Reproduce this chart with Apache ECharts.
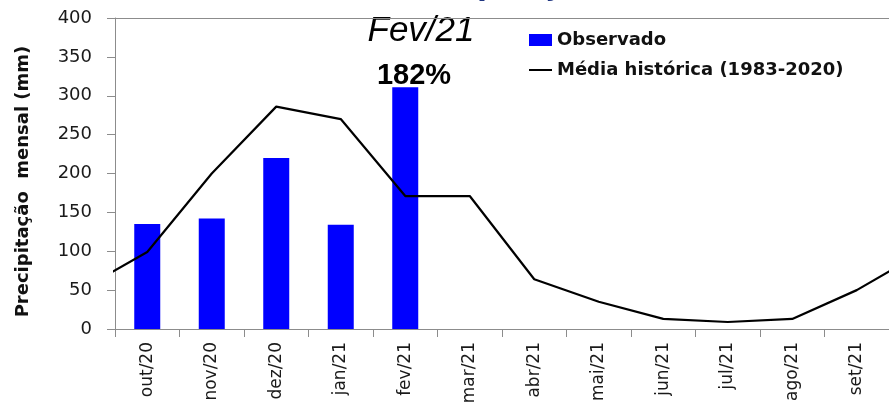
<!DOCTYPE html>
<html>
<head>
<meta charset="utf-8">
<script src="https://cdn.jsdelivr.net/npm/echarts@6/dist/echarts.min.js"></script>
<style>
html,body{margin:0;padding:0;background:#fff;}
#chart{width:889px;height:410px;}
</style>
</head>
<body>
<div id="chart"></div>
<script>
// Categories (months)
var categories = ['out/20','nov/20','dez/20','jan/21','fev/21','mar/21','abr/21','mai/21','jun/21','jul/21','ago/21','set/21'];
// Observed monthly precipitation (mm)
var observado = [135, 142, 220, 134, 311, null, null, null, null, null, null, null];
// Historical mean (1983-2020), mm, for each category
var mediaHistorica = [99, 200, 286, 270, 171, 171, 64, 35, 13, 9, 13, 50];
// Neighbouring months outside the visible window (set/20 and out/21), line runs off the plot edges
var mediaAntes = 52;
var mediaDepois = 98;
// Y axis ticks
var yTicks = [0, 50, 100, 150, 200, 250, 300, 350, 400];
// Texts
var seriesNames = ['Observado', 'Média histórica (1983-2020)'];
var yAxisTitle = 'Precipitação  mensal (mm)';
var annotMonth = 'Fev/21';
var annotPct = '182%';
var chartTitle = 'Precipitação';

// Line data placed on a continuous axis at category centres (index + 0.5)
var lineValues = [mediaAntes].concat(mediaHistorica, [mediaDepois]);
var lineData = lineValues.map(function (v, k) { return [k - 1 + 0.5, v]; });

var chart = echarts.init(document.getElementById('chart'), null, {renderer: 'canvas'});
var option = {
  animation: false,
  backgroundColor: '#ffffff',
  grid: {
    left: 115, right: -2, top: 18, bottom: 81,
    show: false
  },
  legend: {
    orient: 'vertical',
    left: 529, top: 31,
    padding: 0,
    itemGap: 12,
    itemWidth: 23, itemHeight: 12,
    textStyle: {fontFamily: 'DejaVu Sans', fontWeight: 'bold', fontSize: 18, color: '#111', lineHeight: 18},
    data: [
      {name: seriesNames[0], icon: 'rect'},
      {name: seriesNames[1], icon: 'path://M0,0L0.001,0L0.001,0.001Z M0,5h23v2h-23z M23,12L22.999,12L22.999,11.999Z'}
    ]
  },
  xAxis: [
    {
      type: 'category',
      data: categories,
      boundaryGap: true,
      axisLine: {show: true, lineStyle: {color: '#8c8c8c', width: 1}},
      axisTick: {show: true, alignWithLabel: false, length: 8, lineStyle: {color: '#8c8c8c'}},
      axisLabel: {rotate: 90, margin: 13, fontFamily: 'DejaVu Sans', fontSize: 17, color: '#1a1a1a', interval: 0},
      splitLine: {show: false}
    },
    {
      type: 'value',
      min: 0, max: categories.length,
      position: 'top',
      axisLine: {show: true, lineStyle: {color: '#8c8c8c', width: 1}},
      axisTick: {show: false},
      axisLabel: {show: false},
      splitLine: {show: false}
    }
  ],
  yAxis: {
    type: 'value',
    min: yTicks[0], max: yTicks[yTicks.length - 1], interval: yTicks[1] - yTicks[0],
    name: yAxisTitle,
    nameLocation: 'middle',
    nameGap: 83,
    nameRotate: 90,
    nameTextStyle: {fontFamily: 'DejaVu Sans', fontWeight: 'bold', fontSize: 18, color: '#111', padding: [0, 16, 0, 0]},
    axisLine: {show: true, lineStyle: {color: '#8c8c8c', width: 1}},
    axisTick: {show: true, inside: false, length: 8, lineStyle: {color: '#8c8c8c'}},
    axisLabel: {margin: 23, fontFamily: 'DejaVu Sans', fontSize: 18, color: '#1a1a1a'},
    splitLine: {show: false}
  },
  series: [
    {
      name: seriesNames[0],
      type: 'bar',
      xAxisIndex: 0,
      data: observado,
      barWidth: 26,
      itemStyle: {color: '#0000ff'}
    },
    {
      name: seriesNames[1],
      type: 'line',
      xAxisIndex: 1,
      data: lineData,
      symbol: 'none',
      clip: true,
      lineStyle: {color: '#000000', width: 2.2},
      itemStyle: {color: '#000000'}
    }
  ],
  graphic: [
    {
      type: 'text', left: 389, top: -35, silent: true,
      style: {text: chartTitle, fontFamily: 'Liberation Sans', fontWeight: 'bold', fontSize: 36, fill: '#1f3580'}
    },
    {
      type: 'text', x: 421, y: 31, silent: true,
      style: {text: annotMonth, fontFamily: 'Liberation Sans', fontStyle: 'italic', fontSize: 35, fill: '#000', align: 'center', verticalAlign: 'middle'}
    },
    {
      type: 'text', x: 414, y: 76, silent: true,
      style: {text: annotPct, fontFamily: 'Liberation Sans', fontWeight: 'bold', fontSize: 29, fill: '#000', align: 'center', verticalAlign: 'middle'}
    }
  ]
};
chart.setOption(option);
</script>
</body>
</html>
